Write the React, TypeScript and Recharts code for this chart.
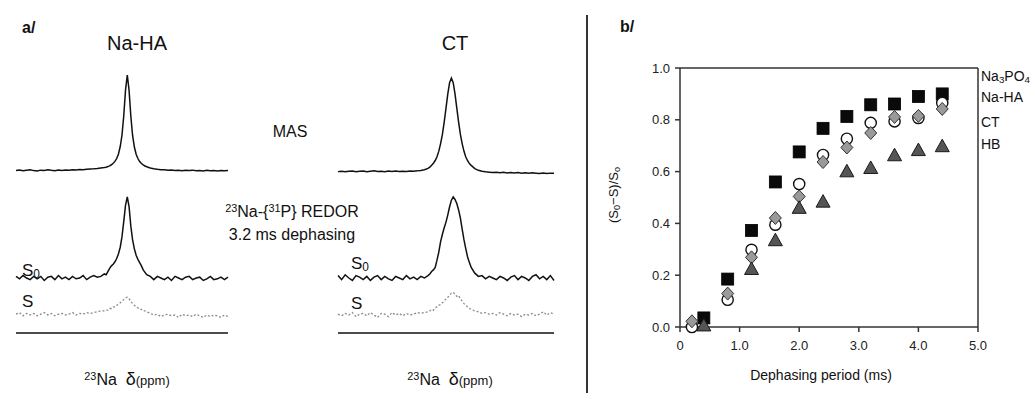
import React from 'react';
import { LineChart, Line, XAxis, YAxis, ScatterChart, Scatter, ReferenceLine } from 'recharts';

const FONT = '"Liberation Sans", Arial, Helvetica, sans-serif';

// ---------- Panel a: 23Na spectra (ppm grid and intensities, peak = 1) ----------
const ppm = [
  60, 58, 56, 54, 52, 50, 48, 46, 44, 42, 40, 38, 36, 34, 32, 30, 28, 26, 24, 22, 20, 18, 16, 14, 12,
  10, 9, 8, 7, 6, 5, 4, 3, 2, 1, 0, -1, -2, -3, -4, -5, -6, -7, -8, -9, -10, -11, -12, -13, -14,
  -16, -18, -20, -22, -24, -26, -28, -30, -32, -34, -36, -38, -40, -42, -44, -46, -48, -50, -52, -54, -56, -58, -60,
];

const naHaMas = [
  0.006, 0.01, 0.002, 0.008, 0.012, 0.004, 0.0, 0.009, 0.006, 0.012, 0.007, 0.003, 0.01, 0.006, 0.011, 0.008, 0.013, 0.01, 0.015, 0.012, 0.017, 0.02, 0.023, 0.027, 0.032,
  0.036, 0.04, 0.046, 0.054, 0.065, 0.08, 0.1, 0.13, 0.178, 0.255, 0.375, 0.575, 0.845, 1.0, 0.84, 0.57, 0.37, 0.25, 0.175, 0.13, 0.098, 0.078, 0.063, 0.052, 0.044,
  0.032, 0.024, 0.018, 0.014, 0.012, 0.008, 0.01, 0.005, 0.008, 0.003, 0.007, 0.004, 0.009, 0.002, 0.006, 0.001, 0.007, 0.003, 0.006, 0.0, 0.004, 0.002, 0.005,
];

const naHaS0 = [
  0.02, -0.01, 0.03, 0.0, -0.02, 0.02, -0.01, 0.02, -0.03, 0.01, 0.02, -0.02, 0.03, -0.01, 0.01, -0.02, 0.02, -0.01, 0.0, 0.03, -0.02, 0.01, 0.03, 0.01, 0.02,
  0.05, 0.04, 0.08, 0.12, 0.15, 0.17, 0.2, 0.24, 0.3, 0.38, 0.51, 0.7, 0.9, 1.0, 0.88, 0.64, 0.47, 0.36, 0.28, 0.23, 0.19, 0.15, 0.1, 0.07, 0.04,
  0.02, -0.02, 0.02, 0.0, -0.02, 0.01, -0.03, 0.02, 0.0, -0.02, 0.01, 0.02, -0.02, 0.0, 0.01, -0.03, -0.01, 0.02, -0.02, -0.01, 0.01, -0.02, 0.01,
];

const naHaS = [
  0.01, 0.03, -0.01, 0.02, 0.0, 0.02, -0.01, 0.01, 0.03, 0.0, 0.02, -0.01, 0.01, 0.02, 0.0, 0.01, 0.03, 0.0, 0.02, 0.01, 0.03, 0.02, 0.03, 0.04, 0.05,
  0.05, 0.06, 0.06, 0.08, 0.08, 0.1, 0.1, 0.12, 0.13, 0.15, 0.17, 0.19, 0.21, 0.22, 0.2, 0.17, 0.14, 0.12, 0.1, 0.09, 0.07, 0.07, 0.05, 0.05, 0.04,
  0.02, 0.0, 0.01, -0.02, 0.0, 0.01, -0.01, 0.0, -0.03, 0.01, -0.01, 0.0, -0.02, 0.01, -0.01, -0.03, 0.0, -0.02, 0.0, -0.01, -0.03, 0.0, -0.02,
];

const ctMas = [
  0.004, 0.009, 0.002, 0.008, 0.011, 0.003, 0.007, 0.01, 0.004, 0.008, 0.012, 0.005, 0.009, 0.003, 0.01, 0.006, 0.011, 0.005, 0.008, 0.006, 0.01, 0.009, 0.012, 0.016, 0.024,
  0.038, 0.052, 0.072, 0.093, 0.122, 0.162, 0.222, 0.302, 0.4, 0.53, 0.68, 0.83, 0.95, 1.0, 0.95, 0.83, 0.68, 0.53, 0.4, 0.3, 0.22, 0.16, 0.12, 0.09, 0.07,
  0.036, 0.018, 0.008, 0.002, -0.002, -0.006, -0.002, -0.008, -0.004, -0.01, -0.005, -0.011, -0.006, -0.012, -0.008, -0.014, -0.009, -0.012, -0.015, -0.01, -0.016, -0.012, -0.014,
];

const ctS0 = [
  0.03, -0.02, 0.04, 0.0, -0.03, 0.03, 0.01, -0.02, 0.02, -0.03, 0.01, 0.03, -0.02, 0.02, -0.01, -0.03, 0.02, 0.0, -0.02, 0.03, -0.01, 0.01, -0.02, 0.02, 0.0,
  0.03, 0.05, 0.08, 0.1, 0.13, 0.22, 0.32, 0.45, 0.54, 0.62, 0.69, 0.78, 0.88, 0.96, 1.0, 0.97, 0.92, 0.84, 0.74, 0.6, 0.47, 0.36, 0.26, 0.19, 0.13,
  0.06, 0.02, 0.03, -0.01, 0.02, 0.0, -0.02, 0.02, 0.0, -0.03, 0.01, 0.03, -0.02, 0.02, 0.0, -0.03, 0.02, 0.04, -0.01, 0.02, -0.02, 0.03, -0.03,
];

const ctS = [
  0.01, -0.01, 0.02, 0.0, 0.03, -0.02, 0.01, 0.02, -0.01, 0.03, 0.0, -0.03, 0.02, 0.01, -0.02, 0.03, 0.0, 0.02, -0.01, 0.02, 0.0, 0.01, 0.03, 0.02, 0.03,
  0.04, 0.05, 0.07, 0.06, 0.09, 0.1, 0.12, 0.13, 0.15, 0.17, 0.2, 0.22, 0.24, 0.27, 0.28, 0.26, 0.23, 0.24, 0.2, 0.17, 0.14, 0.12, 0.1, 0.08, 0.07,
  0.05, 0.04, 0.02, 0.03, 0.01, 0.02, 0.0, 0.03, 0.01, -0.01, 0.02, 0.0, 0.01, -0.02, 0.01, 0.0, 0.02, -0.01, 0.01, 0.04, 0.0, 0.03, 0.01,
];

const ppmTicks = [60, 40, 20, 0, -20, -40, -60];

// ---------- Panel b: REDOR dephasing curves ----------
const dephasing = [0.2, 0.4, 0.8, 1.2, 1.6, 2.0, 2.4, 2.8, 3.2, 3.6, 4.0, 4.4];
const na3po4 = [null, 0.035, 0.185, 0.373, 0.56, 0.676, 0.767, 0.813, 0.858, 0.861, 0.89, 0.9];
const naHA = [0.0, null, 0.105, 0.298, 0.395, 0.552, 0.664, 0.727, 0.788, 0.794, 0.807, 0.865];
const ctData = [0.022, null, 0.129, 0.269, 0.421, 0.504, 0.637, 0.693, 0.749, 0.811, 0.815, 0.842];
const hb = [null, 0.008, null, 0.226, 0.337, 0.462, 0.486, 0.603, 0.616, 0.665, 0.685, 0.7];
const xTicks = [0, 1, 2, 3, 4, 5];
const yTicks = [0, 0.2, 0.4, 0.6, 0.8, 1.0];

const rows = ppm.map((p, i) => ({
  ppm: p,
  naHaMas: naHaMas[i],
  naHaS0: naHaS0[i],
  naHaS: naHaS[i],
  ctMas: ctMas[i],
  ctS0: ctS0[i],
  ctS: ctS[i],
}));

function pts(vals: (number | null)[]) {
  return dephasing
    .map((x, i) => ({ x, y: vals[i] }))
    .filter((d) => d.y !== null);
}

const AXIS_Y = 333; // ppm axis line
const PLOT_TOP = 50;
const PLOT_BOTTOM = 337;
const AXIS_H = 40;
const PAD = 24;

type TraceDef = { k: string; base: number; unit: number; color: string; dash?: string; sw: number };

// One chart per column: each trace has its own hidden Y axis placing it at its baseline.
function Column({ x60, xm60, traces }: { x60: number; xm60: number; traces: TraceDef[] }) {
  const w = xm60 - x60;
  const plotH = PLOT_BOTTOM - PLOT_TOP;
  return (
    <div style={{ position: 'absolute', left: x60 - PAD, top: PLOT_TOP }}>
      <LineChart width={w + 2 * PAD} height={plotH} data={rows} margin={{ top: 0, right: PAD, bottom: 0, left: PAD }}>
        <XAxis type="number" dataKey="ppm" domain={[-60, 60]} reversed hide />
        {traces.map((t) => {
          const lo = -(PLOT_BOTTOM - t.base) / t.unit;
          const hi = lo + plotH / t.unit;
          return <YAxis key={'y' + t.k} yAxisId={t.k} type="number" domain={[lo, hi]} hide allowDataOverflow />;
        })}
        {traces.map((t) => (
          <Line
            key={t.k}
            yAxisId={t.k}
            dataKey={t.k}
            type="linear"
            stroke={t.color}
            strokeWidth={t.sw}
            strokeDasharray={t.dash}
            dot={false}
            isAnimationActive={false}
          />
        ))}
      </LineChart>
    </div>
  );
}

// ppm axis drawn by a ScatterChart axis (same configuration style as panel b)
function PpmAxis({ x60, xm60 }: { x60: number; xm60: number }) {
  const w = xm60 - x60;
  const plotH = 10;
  return (
    <div style={{ position: 'absolute', left: x60 - PAD, top: AXIS_Y - plotH }}>
      <ScatterChart width={w + 2 * PAD} height={plotH + AXIS_H} margin={{ top: 0, right: PAD, bottom: 0, left: PAD }}>
        <XAxis
          type="number"
          dataKey="x"
          domain={[-60, 60]}
          reversed
          ticks={ppmTicks}
          interval={0}
          height={AXIS_H}
          tickSize={-4}
          tickMargin={16.5}
          axisLine={{ stroke: '#111', strokeWidth: 1.4 }}
          tickLine={{ stroke: '#111', strokeWidth: 1.4 }}
          tick={{ fill: '#111', fontSize: 13, fontFamily: FONT }}
        />
        <YAxis type="number" dataKey="y" domain={[0, 1]} hide />
        <Scatter data={[]} isAnimationActive={false} />
      </ScatterChart>
    </div>
  );
}

const naHaTraces: TraceDef[] = [
  { k: 'naHaMas', base: 171, unit: 96, color: '#111', sw: 1.5 },
  { k: 'naHaS0', base: 278, unit: 81, color: '#111', sw: 1.5 },
  { k: 'naHaS', base: 315, unit: 81, color: '#8a8a8a', sw: 1.3, dash: '2 2' },
];
const ctTraces: TraceDef[] = [
  { k: 'ctMas', base: 172, unit: 94, color: '#111', sw: 1.5 },
  { k: 'ctS0', base: 278, unit: 81, color: '#111', sw: 1.5 },
  { k: 'ctS', base: 315, unit: 81, color: '#8a8a8a', sw: 1.3, dash: '2 2' },
];

const Txt = ({
  x,
  y,
  size,
  children,
  bold,
  anchor = 'middle',
  rotate,
}: {
  x: number;
  y: number;
  size: number;
  children: React.ReactNode;
  bold?: boolean;
  anchor?: 'middle' | 'start';
  rotate?: boolean;
}) => (
  <div
    style={{
      position: 'absolute',
      left: x,
      top: y,
      transform:
        (anchor === 'middle' ? 'translate(-50%,-50%)' : 'translate(0,-50%)') + (rotate ? ' rotate(-90deg)' : ''),
      fontSize: size,
      fontFamily: FONT,
      fontWeight: bold ? 700 : 400,
      whiteSpace: 'nowrap',
      lineHeight: 1,
      color: '#111',
    }}
  >
    {children}
  </div>
);

const subStyle: React.CSSProperties = { fontSize: '0.7em', verticalAlign: '-0.25em', lineHeight: 0 };
const supStyle: React.CSSProperties = { fontSize: '0.68em', verticalAlign: '0.45em', lineHeight: 0 };

const Square = (p: any) => (
  <rect x={p.cx - 6} y={p.cy - 6} width={12} height={12} fill="#0a0a0a" stroke="#000" strokeWidth={0.8} />
);
const Circ = (p: any) => <circle cx={p.cx} cy={p.cy} r={5.6} fill="#fff" stroke="#111" strokeWidth={1.4} />;
const Diamond = (p: any) => (
  <polygon
    points={`${p.cx},${p.cy - 6.5} ${p.cx + 6},${p.cy} ${p.cx},${p.cy + 6.5} ${p.cx - 6},${p.cy}`}
    fill="#9a9a9a"
    stroke="#333"
    strokeWidth={1}
  />
);
const Tri = (p: any) => (
  <polygon
    points={`${p.cx},${p.cy - 6.5} ${p.cx + 7},${p.cy + 6} ${p.cx - 7},${p.cy + 6}`}
    fill="#555"
    stroke="#1a1a1a"
    strokeWidth={1}
  />
);

const AX = '#333';

export default function App() {
  return (
    <div style={{ position: 'absolute', left: 0, top: 0, width: 1035, height: 398, background: '#fff' }}>
      {/* Panel a */}
      <Column x60={16} xm60={228} traces={naHaTraces} />
      <Column x60={338} xm60={554} traces={ctTraces} />
      <PpmAxis x60={16} xm60={228} />
      <PpmAxis x60={338} xm60={554} />

      <Txt x={22} y={28} size={16} bold anchor="start">a/</Txt>
      <Txt x={137} y={43} size={20}>Na-HA</Txt>
      <Txt x={455} y={43} size={20}>CT</Txt>
      <Txt x={290} y={132} size={16}>MAS</Txt>
      <Txt x={292} y={212} size={16}>
        <span style={supStyle}>23</span>Na-{'{'}<span style={supStyle}>31</span>P{'}'} REDOR
      </Txt>
      <Txt x={292} y={235} size={16}>3.2 ms dephasing</Txt>
      <Txt x={22} y={270} size={17} anchor="start">
        S<span style={subStyle}>0</span>
      </Txt>
      <Txt x={22} y={301} size={17} anchor="start">S</Txt>
      <Txt x={351} y={263} size={17} anchor="start">
        S<span style={subStyle}>0</span>
      </Txt>
      <Txt x={351} y={303} size={17} anchor="start">S</Txt>

      <Txt x={127} y={379} size={16}>
        <span style={supStyle}>23</span>Na&nbsp;&nbsp;<span style={{ fontSize: 18 }}>δ</span>
        <span style={{ fontSize: 13 }}>(ppm)</span>
      </Txt>
      <Txt x={450} y={379} size={16}>
        <span style={supStyle}>23</span>Na&nbsp;&nbsp;<span style={{ fontSize: 18 }}>δ</span>
        <span style={{ fontSize: 13 }}>(ppm)</span>
      </Txt>

      {/* divider */}
      <div style={{ position: 'absolute', left: 586, top: 15, width: 2, height: 378, background: '#333' }} />

      {/* Panel b */}
      <Txt x={620} y={27} size={16} bold anchor="start">b/</Txt>
      <div style={{ position: 'absolute', left: 590, top: 0 }}>
        <ScatterChart width={445} height={398} margin={{ top: 68, right: 57, bottom: 41, left: 45 }}>
          <XAxis
            type="number"
            dataKey="x"
            domain={[0, 5]}
            ticks={xTicks}
            interval={0}
            height={30}
            tickSize={5}
            tickMargin={9}
            tickFormatter={(v: number) => (v === 0 ? '0' : v.toFixed(1))}
            axisLine={{ stroke: AX, strokeWidth: 1.5 }}
            tickLine={{ stroke: AX, strokeWidth: 1.5 }}
            tick={{ fill: '#222', fontSize: 13, fontFamily: FONT }}
          />
          <YAxis
            type="number"
            dataKey="y"
            domain={[0, 1]}
            ticks={yTicks}
            interval={0}
            width={45}
            tickSize={5}
            tickMargin={5}
            tickFormatter={(v: number) => v.toFixed(1)}
            axisLine={{ stroke: AX, strokeWidth: 1.5 }}
            tickLine={{ stroke: AX, strokeWidth: 1.5 }}
            tick={{ fill: '#222', fontSize: 13, fontFamily: FONT }}
          />
          <ReferenceLine y={1} stroke={AX} strokeWidth={1.5} />
          <ReferenceLine x={5} stroke={AX} strokeWidth={1.5} />
          <Scatter data={pts(na3po4)} shape={Square} isAnimationActive={false} />
          <Scatter data={pts(naHA)} shape={Circ} isAnimationActive={false} />
          <Scatter data={pts(ctData)} shape={Diamond} isAnimationActive={false} />
          <Scatter data={pts(hb)} shape={Tri} isAnimationActive={false} />
        </ScatterChart>
      </div>
      <Txt x={613} y={195} size={13} rotate>
        (S<span style={subStyle}>0</span>−S)/S<span style={subStyle}>o</span>
      </Txt>
      <Txt x={821} y={375} size={14}>Dephasing period (ms)</Txt>
      <Txt x={981} y={76} size={14} anchor="start">
        Na<span style={subStyle}>3</span>PO<span style={subStyle}>4</span>
      </Txt>
      <Txt x={981} y={97} size={14} anchor="start">Na-HA</Txt>
      <Txt x={981} y={122} size={14} anchor="start">CT</Txt>
      <Txt x={981} y={144} size={14} anchor="start">HB</Txt>
    </div>
  );
}
